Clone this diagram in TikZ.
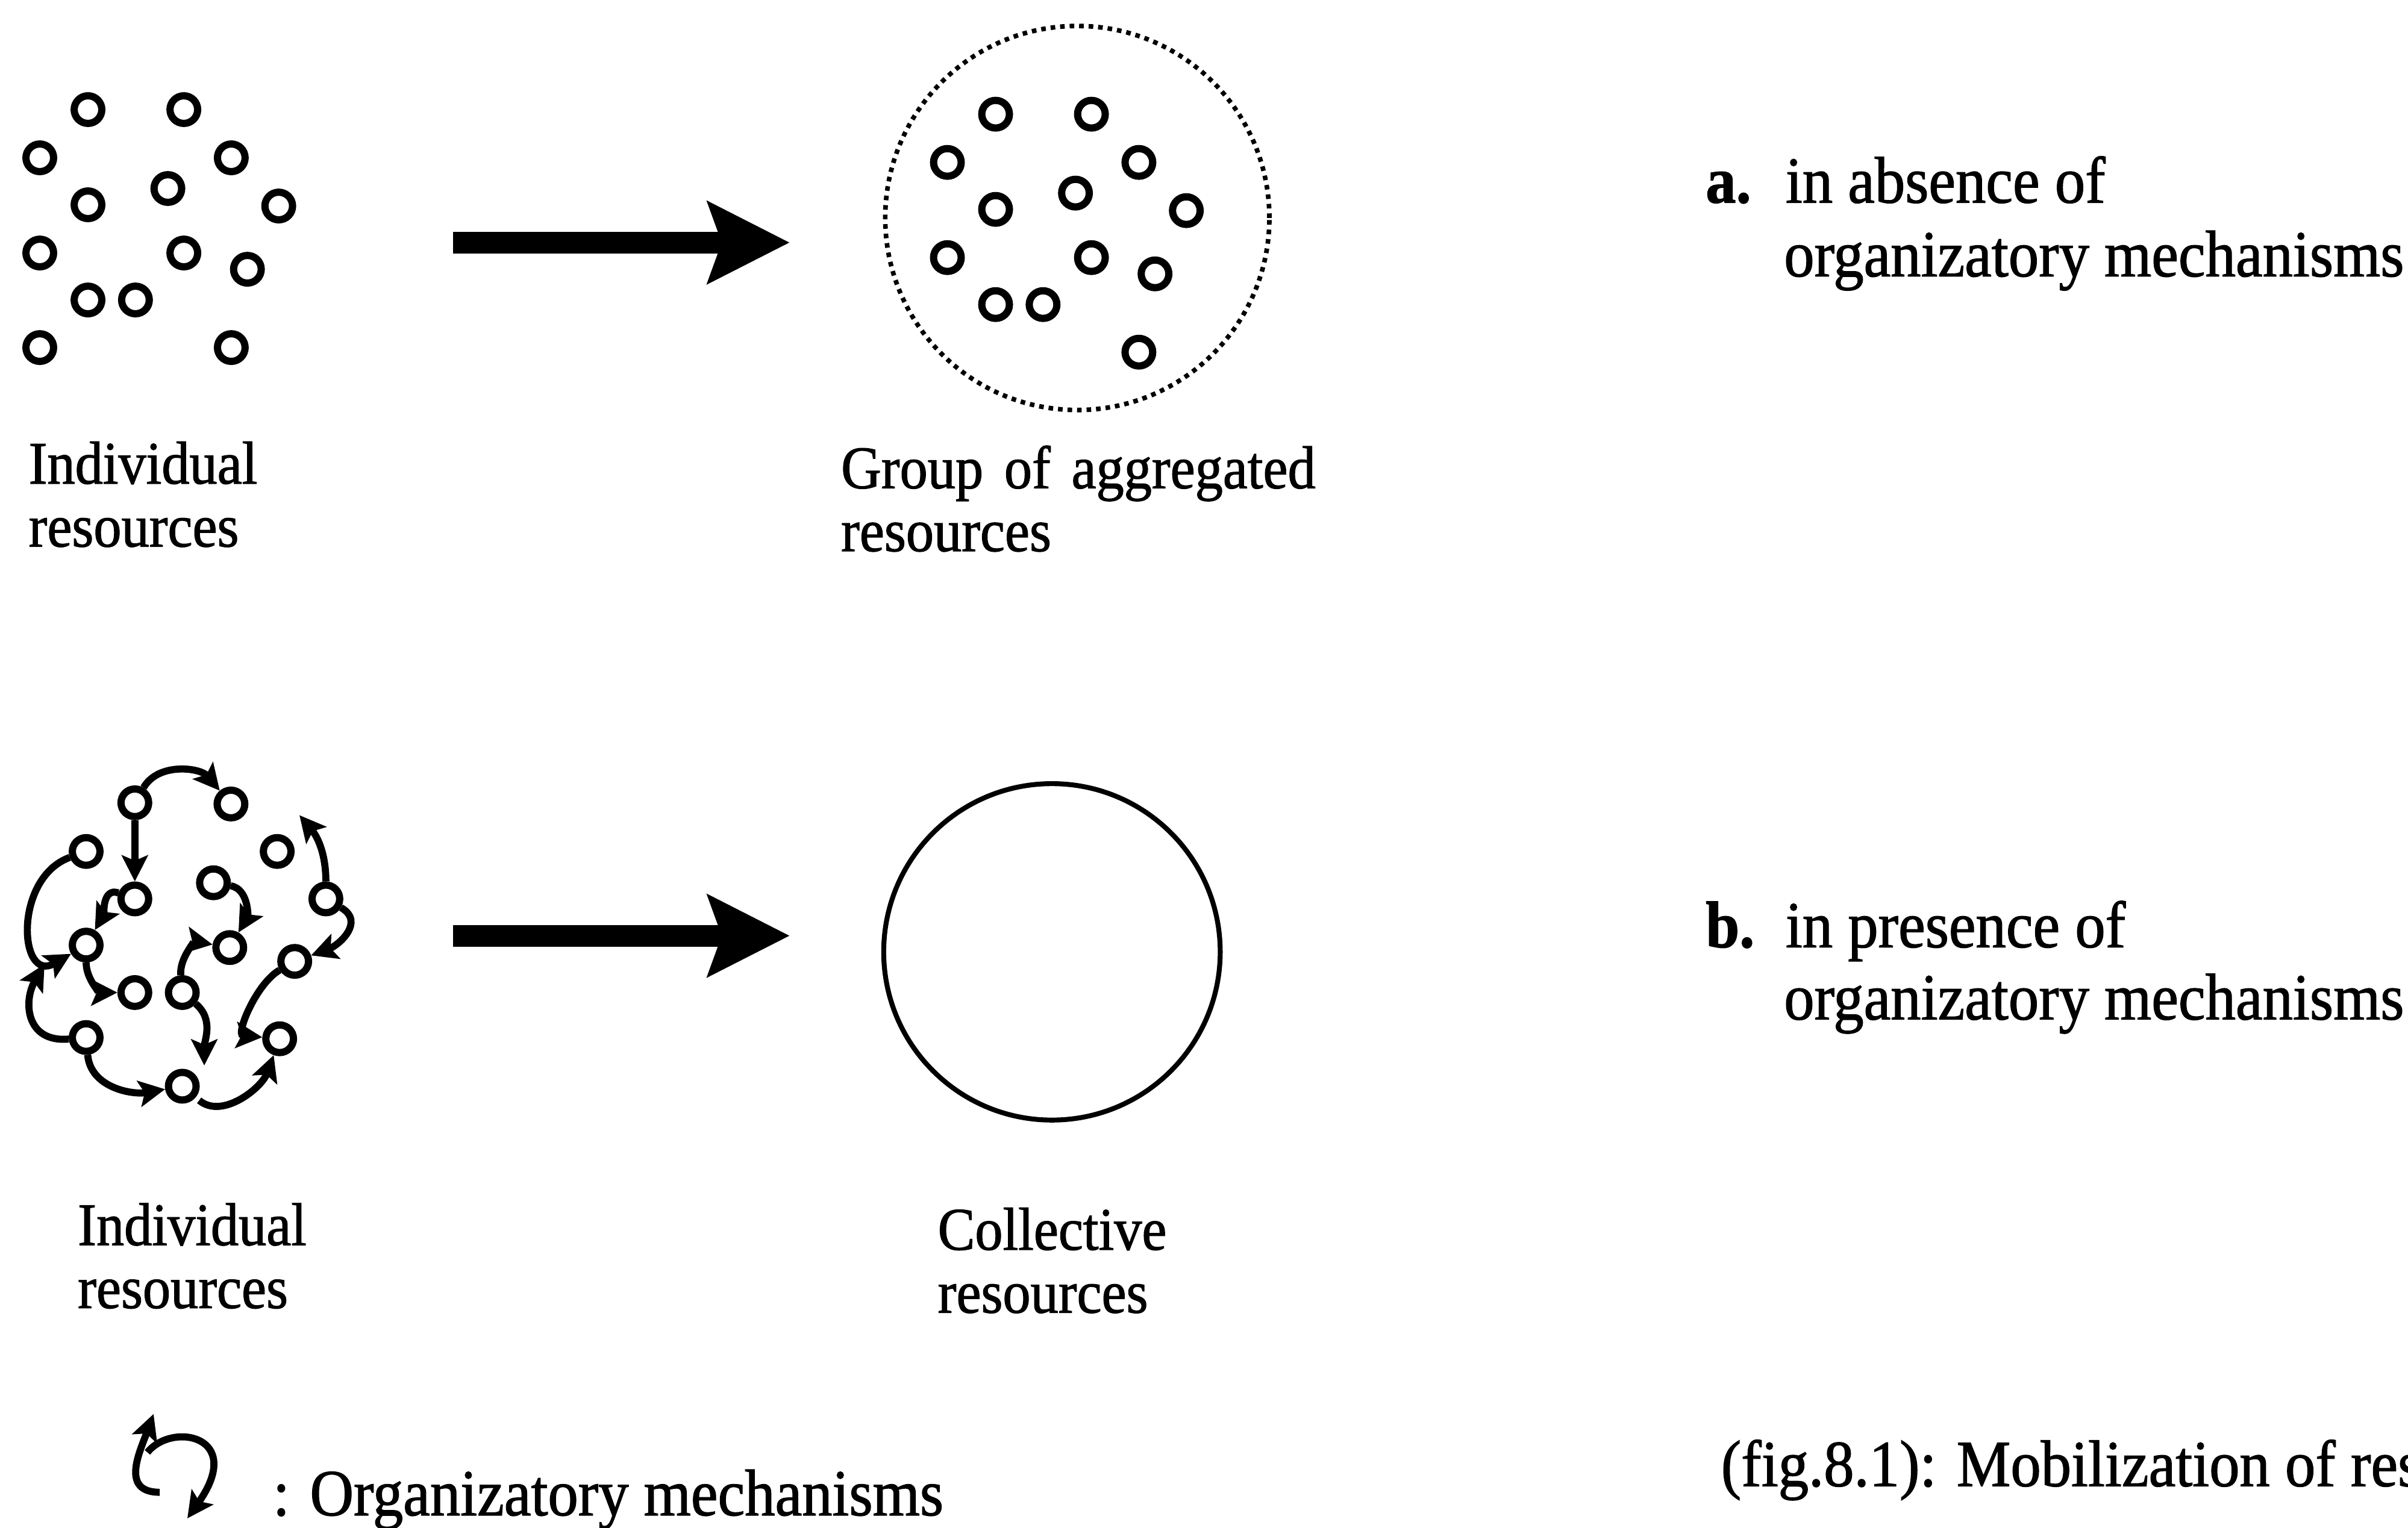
\documentclass[tikz,border=0pt]{standalone}
\usepackage{fontspec}
\setmainfont{Liberation Serif}[FakeStretch=0.92, FakeBold=1.2]
\usetikzlibrary{arrows.meta}

\begin{document}
\begin{tikzpicture}[x=0.01cm, y=-0.01cm,
    res/.style={circle, draw, line width=0.047cm, inner sep=0pt, minimum size=0.18cm},
    mech/.style={line width=0.046cm, -{Stealth[length=0.17cm, width=0.17cm, inset=0.035cm]}},
    bigarrow/.style={line width=0.14cm,
      -{Stealth[length=0.54cm, width=0.55cm, inset=0.1cm, line width=0pt]}},
    lbl/.style={anchor=base west, inner sep=0pt, font=\fontsize{11.2}{13}\selectfont},
    txt/.style={anchor=base west, inner sep=0pt, font=\fontsize{12.2}{14}\selectfont}]
  \useasboundingbox (0,0) rectangle (1568,995);
  % Individual resources, scattered.
  \foreach \x/\y [count=\i] in {57.3/71.4, 119.7/71.4, 25.9/102.8, 150.6/102.8,
      57.3/133.4, 109.3/122.8, 181.5/134.2, 25.9/164.8, 119.7/164.8,
      161.1/175.4, 57.3/195.4, 88.2/195.4, 25.9/226.4, 150.6/226.4}
    \node[res] (t\i) at (\x,\y) {};
  % Group of aggregated resources, inside a dotted border.
  \foreach \x/\y [count=\i] in {648.3/74.4, 710.7/74.4, 616.9/105.8, 741.6/105.8,
      648.3/136.4, 700.3/125.8, 772.5/137.2, 616.9/167.8, 710.7/167.8,
      752.1/178.4, 648.3/198.4, 679.2/198.4, 741.6/229.4}
    \node[res] (g\i) at (\x,\y) {};
  \node[circle, draw, line width=0.03cm, dash pattern=on 0.03cm off 0.032cm,
        inner sep=0pt, minimum size=2.5cm] (grp) at (701.5,142) {};
  % Top arrow.
  \coordinate (arrAs) at (295,158);
  \coordinate (arrAe) at (514,158);
  \draw[bigarrow] (arrAs) -- (arrAe);
  % Labels, row a.
  \node[lbl] (indA1) at (18,315) {Individual};
  \node[lbl] (indA2) at (18,356) {resources};
  \node[lbl] (grpL1) at (547,318) {Group\hspace{1.3pt} of\hspace{1.3pt} aggregated};
  \node[lbl] (grpL2) at (547,359) {resources};
  \node[txt] (caseA)  at (1110,132) {\textbf{a.}};
  \node[txt] (caseA1) at (1162,132) {in absence of};
  \node[txt] (caseA2) at (1161,180) {organizatory mechanisms};
  % Individual resources linked by organizatory mechanisms.
  \foreach \x/\y [count=\i] in {87.8/522.9, 150.4/523.7, 56.1/554.6, 180.5/554.6,
      87.8/585.5, 139/575, 212.2/585.5, 56.1/615.6, 149.6/617.2, 191.9/626.2,
      87.8/646.5, 118.7/646.5, 56.1/675.8, 182.1/676.6, 118.7/707.5}
    \node[res] (r\i) at (\x,\y) {};
  \coordinate (m8) at (195,531);
  \coordinate (m11) at (133,694);
  \coordinate (m12) at (29,628);
  \draw[mech] (r1) to[out=60, in=130] (r2);
  \draw[mech] (r1) -- (r5);
  \draw[mech] (r3) to[out=200, in=210, looseness=1.6] (r8);
  \draw[mech] (r5) to[out=160, in=60] (r8);
  \draw[mech] (r8) to[out=-90, in=180] (r11);
  \draw[mech] (r6) to[out=-10, in=60] (r9);
  \draw[mech] (r12) to[out=95, in=170] (r9);
  \draw[mech] (r7) to[out=90, in=-50] (m8);
  \draw[mech] (r7) to[out=-30, in=20, looseness=1.3] (r10);
  \draw[mech] (r10) to[out=210, in=175] (r14);
  \draw[mech] (r12) to[out=-40, in=90] (m11);
  \draw[mech] (r13) to[out=185, in=-120, looseness=1.4] (m12);
  \draw[mech] (r13) to[out=-85, in=190] (r15);
  \draw[mech, shorten <=0.03cm] (r15) to[out=-40, in=-110] (r14);
  % Bottom arrow and collective resources.
  \coordinate (arrBs) at (295,609.5);
  \coordinate (arrBe) at (514,609.5);
  \draw[bigarrow] (arrBs) -- (arrBe);
  \node[circle, draw, line width=0.032cm, inner sep=0pt, minimum size=2.19cm] (coll) at (685,620) {};
  % Labels, row b.
  \node[lbl] (indB1) at (50,811) {Individual};
  \node[lbl] (indB2) at (50,852) {resources};
  \node[lbl] (colL1) at (610,814) {Collective};
  \node[lbl] (colL2) at (610,855) {resources};
  \node[txt] (caseB)  at (1110,617) {\textbf{b.}};
  \node[txt] (caseB1) at (1162,617) {in presence of};
  \node[txt] (caseB2) at (1161,664) {organizatory mechanisms};
  % Legend.
  \coordinate (lgA) at (104,972);
  \coordinate (lgB) at (100,921);
  \coordinate (lgC) at (96,946);
  \coordinate (lgD) at (122,989);
  \draw[mech] (lgA) to[out=180, in=-110, looseness=1.3] (lgB);
  \draw[mech] (lgC) .. controls (112,926) and (160,935) .. (lgD);
  \node[txt] (legtxt) at (177,987) {: Organizatory mechanisms};
  % Caption, cut by the page edge.
  \node[txt] (caption) at (1120,968) {(fig.8.1): Mobilization of resources};
\end{tikzpicture}
\end{document}
